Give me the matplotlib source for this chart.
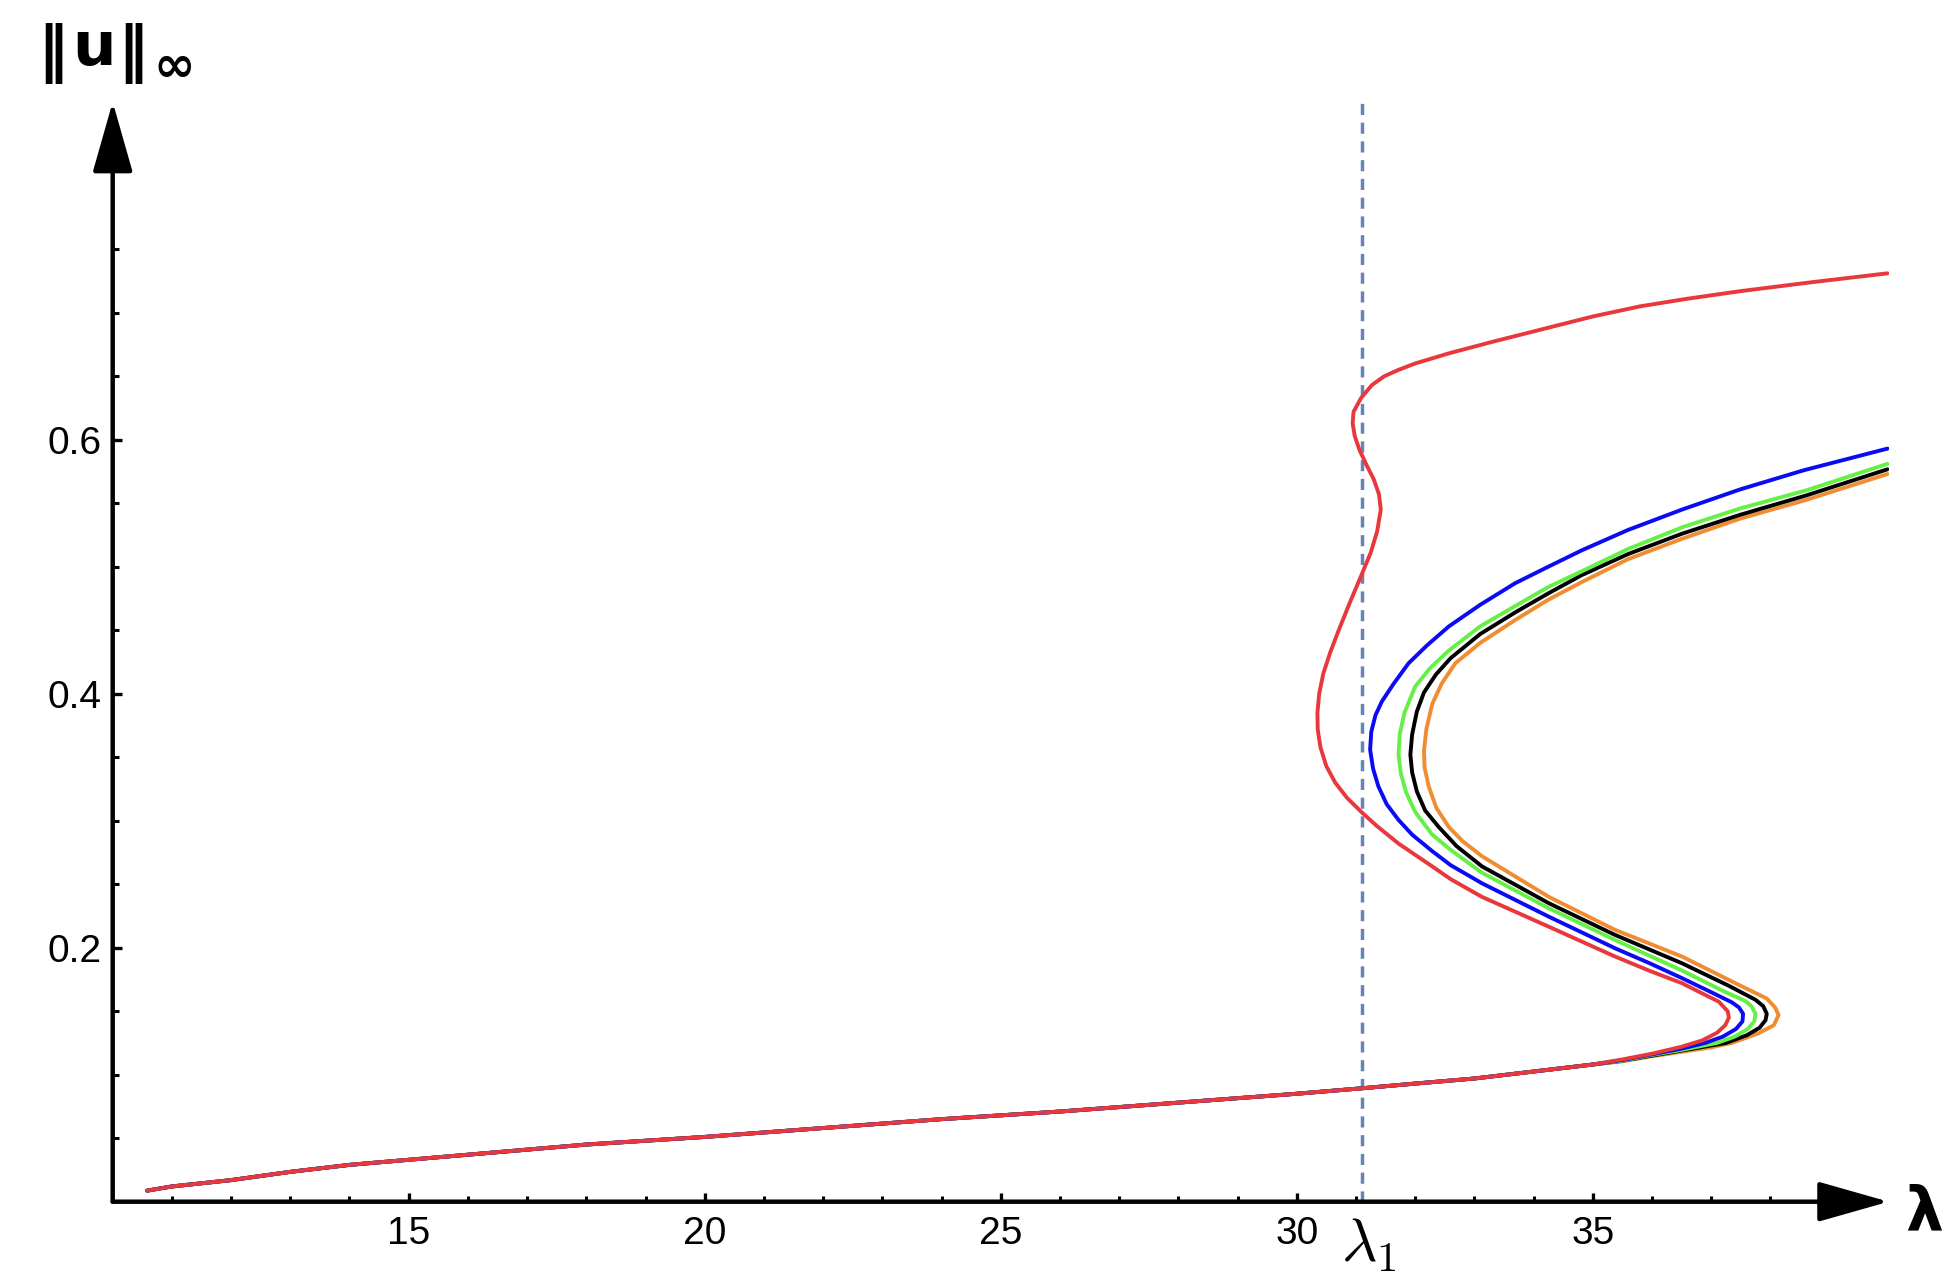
import matplotlib
matplotlib.use("Agg")
import matplotlib.pyplot as plt
from matplotlib.ticker import FixedLocator, FixedFormatter

# ---------------- data ----------------
lam1 = 31.1

# shared lower branch (lambda, ||u||_inf)
lam_low = [10.58, 11.0, 12.0, 13.0, 14.0, 15.0, 16.5, 18.0, 20.0, 22.0, 24.0,
           26.0, 28.0, 30.0, 31.1, 32.0, 33.0, 34.0, 35.0]
u_low = [0.0087, 0.012, 0.017, 0.0235, 0.029, 0.033, 0.039, 0.045, 0.051, 0.058,
         0.065, 0.071, 0.078, 0.085, 0.0893, 0.093, 0.097, 0.1025, 0.108]

# per-curve continuation (fold and upper branch)
lam_red = [35.5, 36.0, 36.5, 36.85, 37.1, 37.24, 37.30, 37.28, 37.13, 36.85, 36.51, 35.95,
           35.38, 34.26, 33.13, 32.6, 32.29, 31.72, 31.35, 31.09, 30.85, 30.65, 30.50,
           30.40, 30.355, 30.35, 30.38, 30.45, 30.57, 30.71, 30.90, 31.09, 31.25, 31.36,
           31.42, 31.39, 31.30, 31.18, 31.06, 30.98, 30.945, 30.96, 31.09, 31.27, 31.48,
           31.72, 32.0, 32.57, 33.3, 34.15, 35.0, 35.8, 36.6, 37.5, 38.7, 39.98]
u_red = [0.112, 0.1165, 0.122, 0.127, 0.133, 0.139, 0.145, 0.150, 0.1575, 0.164, 0.172, 0.182,
         0.193, 0.2165, 0.240, 0.254, 0.264, 0.282, 0.296, 0.307, 0.318, 0.330, 0.343,
         0.358, 0.372, 0.385, 0.400, 0.416, 0.433, 0.450, 0.472, 0.493, 0.511, 0.528,
         0.545, 0.557, 0.569, 0.580, 0.592, 0.603, 0.613, 0.622, 0.633, 0.643, 0.650,
         0.655, 0.660, 0.668, 0.677, 0.687, 0.697, 0.705, 0.711, 0.717, 0.724, 0.731]

lam_blue = [35.5, 36.0, 36.5, 36.9, 37.2, 37.42, 37.53, 37.54, 37.47, 37.35, 37.0, 36.51,
            35.95, 35.38, 34.26, 33.13, 32.6, 32.29, 31.95, 31.72, 31.52, 31.38, 31.29,
            31.24, 31.26, 31.33, 31.44, 31.64, 31.89, 32.2, 32.57, 33.1, 33.69, 34.25,
            34.82, 35.6, 36.51, 37.5, 38.57, 39.98]
u_blue = [0.1115, 0.116, 0.1205, 0.125, 0.130, 0.136, 0.142, 0.148, 0.153, 0.157, 0.165, 0.176,
          0.188, 0.1995, 0.2244, 0.2507, 0.265, 0.276, 0.289, 0.3006, 0.313, 0.327, 0.341,
          0.356, 0.370, 0.383, 0.394, 0.408, 0.424, 0.438, 0.453, 0.470, 0.487, 0.500,
          0.513, 0.529, 0.545, 0.561, 0.576, 0.593]

lam_green = [35.5, 36.0, 36.5, 37.1, 37.4, 37.62, 37.73, 37.75, 37.68, 37.58, 37.2, 36.51,
             35.38, 34.26, 33.13, 32.6, 32.29, 32.0, 31.85, 31.76, 31.72, 31.74, 31.82,
             32.0, 32.25, 32.57, 33.1, 33.69, 34.25, 34.82, 35.6, 36.51, 37.5, 38.6, 39.98]
u_green = [0.111, 0.1155, 0.1195, 0.125, 0.130, 0.136, 0.142, 0.148, 0.154, 0.158, 0.166, 0.182,
           0.206, 0.231, 0.259, 0.277, 0.289, 0.307, 0.322, 0.337, 0.352, 0.368, 0.385,
           0.4055, 0.420, 0.434, 0.453, 0.469, 0.484, 0.4965, 0.514, 0.531, 0.546, 0.560, 0.581]

lam_black = [35.5, 36.0, 36.5, 37.25, 37.6, 37.82, 37.92, 37.94, 37.88, 37.75, 37.3, 36.51,
             35.38, 34.26, 33.13, 32.7, 32.4, 32.17, 32.03, 31.95, 31.92, 31.95, 32.03,
             32.15, 32.35, 32.6, 33.1, 33.69, 34.25, 34.82, 35.6, 36.51, 37.5, 38.6, 39.98]
u_black = [0.111, 0.115, 0.119, 0.125, 0.131, 0.137, 0.143, 0.148, 0.154, 0.159, 0.170, 0.1877,
           0.210, 0.235, 0.264, 0.280, 0.295, 0.308, 0.323, 0.338, 0.352, 0.368, 0.386,
           0.401, 0.415, 0.428, 0.447, 0.464, 0.479, 0.4935, 0.510, 0.526, 0.541, 0.556, 0.5767]

lam_orange = [35.5, 36.0, 36.5, 37.0, 37.35, 37.8, 38.06, 38.14, 38.08, 37.94, 37.5, 36.51,
              35.38, 34.26, 33.13, 32.8, 32.57, 32.36, 32.23, 32.16, 32.15, 32.19, 32.29,
              32.45, 32.68, 33.1, 33.69, 34.25, 34.82, 35.6, 36.51, 37.5, 38.6, 39.98]
u_orange = [0.1105, 0.1145, 0.118, 0.1215, 0.125, 0.1326, 0.139, 0.147, 0.153, 0.160, 0.170, 0.193,
            0.214, 0.240, 0.272, 0.284, 0.295, 0.310, 0.327, 0.342, 0.355, 0.372, 0.392,
            0.408, 0.424, 0.440, 0.458, 0.474, 0.488, 0.506, 0.522, 0.538, 0.5525, 0.573]

x_major = [15, 20, 25, 30, 35]
x_major_labels = ["15", "20", "25", "30", "35"]
x_minor = [11, 12, 13, 14, 16, 17, 18, 19, 21, 22, 23, 24, 26, 27, 28, 29,
           31, 32, 33, 34, 36, 37, 38]
y_major = [0.2, 0.4, 0.6]
y_major_labels = ["0.2", "0.4", "0.6"]
y_minor = [0.05, 0.10, 0.15, 0.25, 0.30, 0.35, 0.45, 0.50, 0.55, 0.65, 0.70, 0.75]

# ---------------- figure ----------------
W, H = 1957, 1288
fig = plt.figure(figsize=(W / 100, H / 100), dpi=100)
ax = fig.add_axes([112.7 / W, 86.3 / H, 1776 / W, 0.88 * 1270 / H])
ax.set_xlim(10, 40)
ax.set_ylim(0, 0.88)
for s in ax.spines.values():
    s.set_visible(False)
ax.patch.set_alpha(0)

curves = [
    (lam_orange, u_orange, "#f08c32"),
    (lam_black, u_black, "#000000"),
    (lam_green, u_green, "#66f046"),
    (lam_blue, u_blue, "#0a0af5"),
    (lam_red, u_red, "#e8383d"),
]
for lam_t, u_t, col in curves:
    ax.plot(lam_low + lam_t, u_low + u_t, color=col, lw=2.8, solid_joinstyle="round",
            solid_capstyle="round", zorder=3)

# dashed lambda_1 line
ax.vlines(lam1, 0, 0.868, colors="#6485b5", linestyles=(0, (3.2, 2.2)), lw=2.5, zorder=2)

# axes with arrows
arrow_kw = dict(arrowstyle="-|>,head_length=44,head_width=12.5", color="black", lw=3.2,
                shrinkA=0, shrinkB=0, mutation_scale=1)
ax.annotate("", xy=(40.0, 0), xytext=(10, 0), xycoords="data",
            arrowprops=arrow_kw, annotation_clip=False, zorder=4)
ax.annotate("", xy=(10, 0.866), xytext=(10, 0), xycoords="data",
            arrowprops=arrow_kw, annotation_clip=False, zorder=4)

# ticks
ax.xaxis.set_major_locator(FixedLocator(x_major))
ax.xaxis.set_major_formatter(FixedFormatter(x_major_labels))
ax.xaxis.set_minor_locator(FixedLocator(x_minor))
ax.yaxis.set_major_locator(FixedLocator(y_major))
ax.yaxis.set_major_formatter(FixedFormatter(y_major_labels))
ax.yaxis.set_minor_locator(FixedLocator(y_minor))
ax.tick_params(which="both", direction="in", top=False, right=False, color="black")
ax.tick_params(which="major", length=6.5, width=2.4, labelsize=28, pad=10)
ax.tick_params(which="minor", length=4, width=2.2)
ax.tick_params(axis="y", which="major", pad=8)
for lab in ax.get_xticklabels() + ax.get_yticklabels():
    lab.set_family(["Liberation Sans", "DejaVu Sans"])

# lambda_1 label
ax.text(30.75, -0.011, r"$\lambda_1$", ha="left", va="top", fontsize=44,
        math_fontfamily="cm", zorder=6,
        bbox=dict(facecolor="white", edgecolor="none", pad=1))

# axis labels: ||u||_inf
bold = dict(fontweight="bold", family="DejaVu Sans", va="baseline", ha="left")
fig.text(37 / W, 1 - 69 / H, "\u2016", fontsize=44, **bold)
fig.text(72 / W, 1 - 65 / H, "u", fontsize=44, **bold)
fig.text(117 / W, 1 - 69 / H, "\u2016", fontsize=44, **bold)
fig.text(153 / W, 1 - 81 / H, "\u221e", fontsize=36, **bold)
# lambda axis label
fig.text(1905 / W, 1 - 1229 / H, "\u03bb", fontsize=43, **bold)

fig.savefig("out.png", dpi=100)
